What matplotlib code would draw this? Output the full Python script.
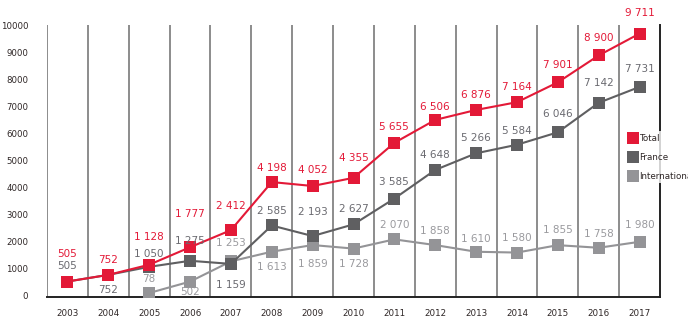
import matplotlib
matplotlib.use("Agg")
import matplotlib.pyplot as plt
from matplotlib.lines import Line2D

years = [str(y) for y in range(2003, 2018)]
total = [505, 752, 1128, 1777, 2412, 4198, 4052, 4355, 5655, 6506, 6876, 7164, 7901, 8900, 9711]
france = [505, 752, 1050, 1275, 1159, 2585, 2193, 2627, 3585, 4648, 5266, 5584, 6046, 7142, 7731]
intl_years = [str(y) for y in range(2005, 2018)]
international = [78, 502, 1253, 1613, 1859, 1728, 2070, 1858, 1610, 1580, 1855, 1758, 1980]
yticks = [0, 1000, 2000, 3000, 4000, 5000, 6000, 7000, 8000, 9000, 10000]
series_names = ["Total", "France", "International"]

RED = "#e31937"
DARK = "#5f5f61"
LIGHT = "#949497"

# label offsets in pixels (style)
total_off = [28, 15, 28, 33, 24, 14, 16, 20, 16, 13, 15, 15, 17, 17, 21]
france_off = [16, -15, 13, 20, -21, 14, 24, 15, 17, 15, 15, 14, 18, 20, 18]
intl_off = [14, -10, 18, -15, -19, -15, 14, 14, 13, 15, 15, 14, 17]

narrow = ["Liberation Sans Narrow", "DejaVu Sans"]

fig = plt.figure(figsize=(6.88, 3.29), dpi=100)
W, H = 688, 329
left_px, right_px, top_px, bot_px = 47, 660, 25, 297
ax = fig.add_axes([left_px / W, 1 - bot_px / H, (right_px - left_px) / W, (bot_px - top_px) / H])

x = list(range(len(years)))
xi = [years.index(y) for y in intl_years]

ax.set_xlim(-0.5, len(years) - 0.5)
ax.set_ylim(-70, 10030)

for i in range(len(years)):
    ax.axvline(i - 0.5, color="#8c8c8c", lw=1.4, zorder=1)

ax.plot(xi, international, color=LIGHT, lw=1.5, marker="s", ms=8.8, mew=0, zorder=3)
ax.plot(x, france, color=DARK, lw=1.5, marker="s", ms=8.8, mew=0, zorder=4)
ax.plot(x, total, color=RED, lw=1.5, marker="s", ms=8.8, mew=0, zorder=5)

def fmt(v):
    return f"{v:,}".replace(",", " ")

for xx, v, o in zip(x, total, total_off):
    ax.annotate(fmt(v), (xx, v), xytext=(0, o), textcoords="offset pixels",
                ha="center", va="center", fontsize=7.5, color=RED, zorder=6)
for xx, v, o in zip(x, france, france_off):
    ax.annotate(fmt(v), (xx, v), xytext=(0, o), textcoords="offset pixels",
                ha="center", va="center", fontsize=7.5, color="#6a6a70", zorder=6)
for xx, v, o in zip(xi, international, intl_off):
    ax.annotate(fmt(v), (xx, v), xytext=(0, o), textcoords="offset pixels",
                ha="center", va="center", fontsize=7.5, color="#9a9a9e", zorder=6)

for s in ["top", "left"]:
    ax.spines[s].set_visible(False)
ax.spines["bottom"].set_color("#222222")
ax.spines["bottom"].set_linewidth(1.4)
ax.spines["right"].set_color("#222222")
ax.spines["right"].set_linewidth(1.4)

ax.set_yticks(yticks)
ax.set_yticklabels([str(t) for t in yticks], family=narrow, fontsize=6.2, color="#2e2626")
ax.set_xticks(x)
ax.set_xticklabels(years, family=narrow, fontsize=6.3, color="#2e2626")
ax.tick_params(axis="y", length=0, pad=13.5)
ax.tick_params(axis="x", length=0, pad=9)

handles = [Line2D([], [], ls="none", marker="s", ms=8.5, mew=0, color=c) for c in (RED, DARK, LIGHT)]
leg = fig.legend(handles, series_names, loc="upper left", bbox_to_anchor=(626 / W, 1 - 131 / H),
                 frameon=True, facecolor="white", edgecolor="none", fancybox=False,
                 prop={"family": narrow, "size": 6.3}, handlelength=1.0, handletextpad=0.15,
                 labelspacing=1.15, borderpad=0.3, borderaxespad=0)
leg.get_frame().set_linewidth(0)
for t in leg.get_texts():
    t.set_color("#2e2626")

fig.savefig("out.png", dpi=100)
